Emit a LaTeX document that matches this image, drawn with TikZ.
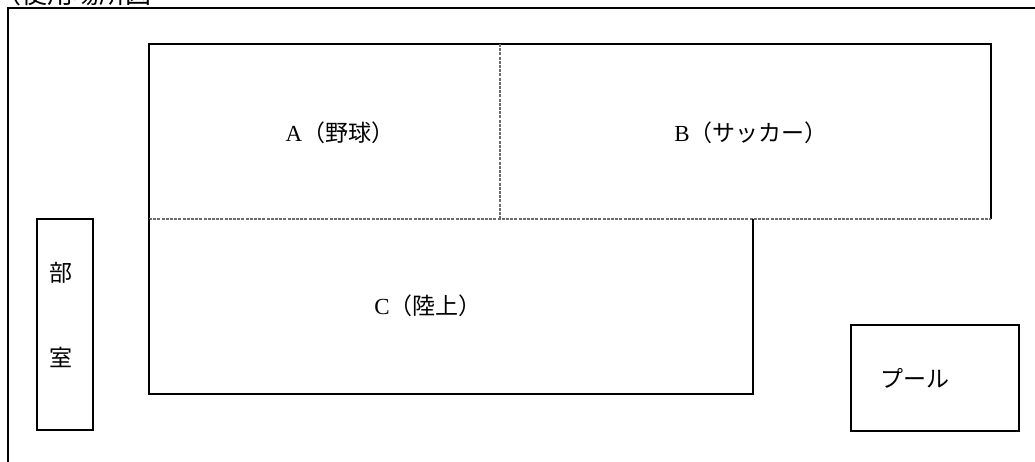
\documentclass[tikz,border=0pt]{standalone}
\usepackage{fontspec}
\setmainfont{Liberation Serif}
\newfontfamily\cjk{Noto Sans CJK JP}
\begin{document}
\begin{tikzpicture}[x=1pt,y=-1pt,
  solidline/.style={line width=2.1pt,black},
  dashline/.style={line width=1.3pt,gray!85!black,dash pattern=on 3pt off 1.2pt},
  lbl/.style={font=\fontsize{23}{26}\selectfont,inner sep=0pt,anchor=center}]
\useasboundingbox (0,0) rectangle (1035,461);
% outer frame
\coordinate (ofbl) at (8,470);
\coordinate (oftl) at (8,8);
\coordinate (oftr) at (1045,8);
\draw[solidline] (ofbl) -- (oftl) -- (oftr);
% title (clipped at top)
\node[anchor=south west,inner sep=0pt,font=\fontsize{26}{28}\selectfont\cjk] (title) at (-5,6) {（使用場所図};
% A+B box
\coordinate (abtl) at (149,44);
\coordinate (abtr) at (991,44);
\coordinate (abbl) at (149,219);
\coordinate (abbr) at (991,219);
\coordinate (divt) at (500,44);
\coordinate (divb) at (500,219);
\draw[solidline] (abbl) -- (abtl) -- (abtr) -- (abbr);
\draw[dashline] (abbl) -- (abbr);
\draw[dashline] (divt) -- (divb);
% C box
\coordinate (ctr) at (753,219);
\coordinate (cbr) at (753,394);
\coordinate (cbl) at (149,394);
\draw[solidline] (abbl) -- (cbl) -- (cbr) -- (ctr);
% labels
\node[lbl] (la) at (340,133) {A{\cjk （野球）}};
\node[lbl] (lb) at (751,133) {B{\cjk （サッカー）}};
\node[lbl] (lc) at (428,306) {C{\cjk （陸上）}};
% club room
\node[draw,line width=2.1pt,minimum width=56pt,minimum height=211pt,inner sep=0pt] (club) at (65,324.5) {};
\node[lbl,font=\fontsize{23}{26}\selectfont\cjk] (bu) at (61,273) {部};
\node[lbl,font=\fontsize{23}{26}\selectfont\cjk] (shitsu) at (61,357) {室};
% pool
\node[draw,line width=2.1pt,minimum width=168pt,minimum height=106pt,inner sep=0pt] (pool) at (935,378) {};
\node[lbl,font=\fontsize{23}{26}\selectfont\cjk] (pl) at (915,378) {プール};
\end{tikzpicture}
\end{document}
